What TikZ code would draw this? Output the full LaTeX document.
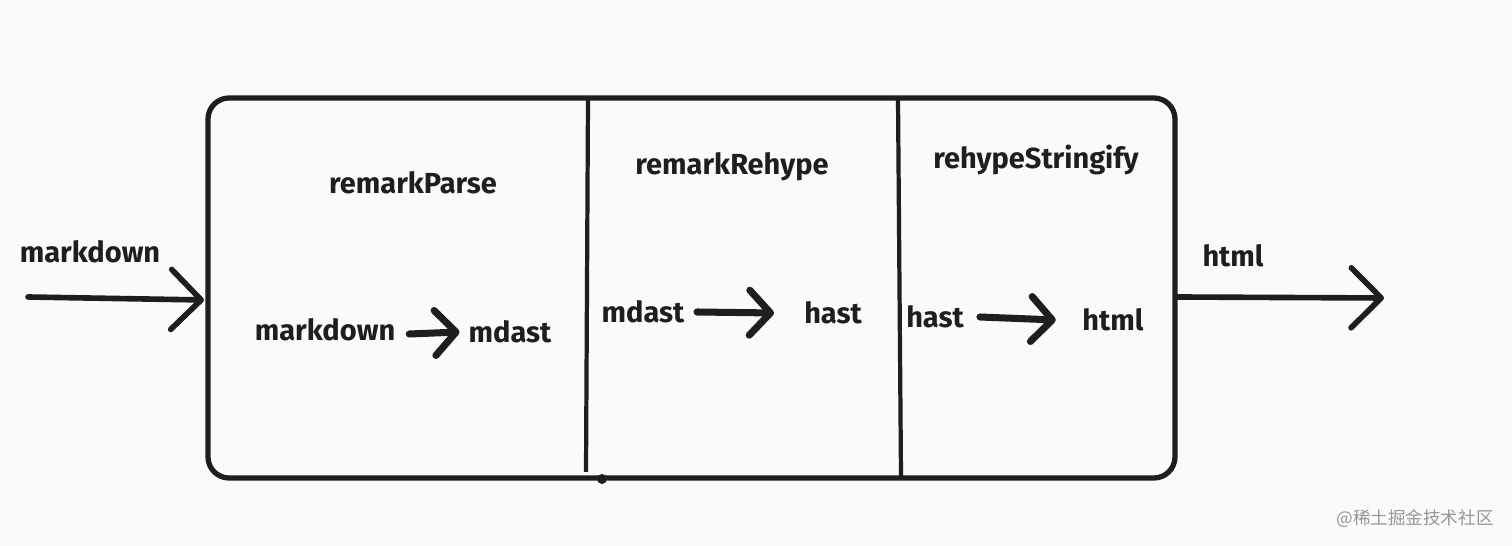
\documentclass[tikz,border=0pt]{standalone}
\usepackage{fontspec}
\setmainfont{Fira Sans}
\newfontfamily\cjk{Noto Sans CJK SC}
\usetikzlibrary{positioning,arrows.meta}
\definecolor{Paper}{RGB}{249,250,251}
\definecolor{Ink}{RGB}{30,30,30}
\definecolor{Mark}{RGB}{150,150,150}

\begin{document}
\begin{tikzpicture}[x=0.02cm,y=-0.02cm,
  lbl/.style={font=\bfseries\fontsize{16.5}{19}\selectfont,text=Ink,inner sep=1pt},
  wire/.style={line width=3.2pt,draw=Ink,line cap=round,
    -{Straight Barb[length=0.6cm,width=1.2cm,line cap=round,line join=round]}},
  flow/.style={line width=4pt,draw=Ink,line cap=round,
    -{Straight Barb[length=0.42cm,width=0.9cm,line cap=round,line join=round]}}]
\fill[Paper] (0,0) rectangle (1512,546);
\useasboundingbox (0,0) rectangle (1512,546);
% frame and stages
\draw[Ink,line width=3pt,rounded corners=12] (208,98) rectangle (1175,478);
\draw[Ink,line width=2.4pt] (588,98) -- (586,472);
\draw[Ink,line width=2.4pt] (898,98) -- (901,476);
\fill[Ink] (602,479) circle (5);
\node[lbl] (parse) at (413,183) {remarkParse};
\node[lbl] (rehype) at (732,167) {remarkRehype};
\node[lbl] (stringify) at (1036,160) {rehypeStringify};
% outside
\coordinate (src) at (28,297);
\coordinate (boxin) at (204,300);
\coordinate (boxout) at (1178,297);
\coordinate (dst) at (1384,298);
\node[lbl] (inlbl) at (90,252) {markdown};
\node[lbl] (outlbl) at (1233,256) {html};
\draw[wire] (src) -- (boxin);
\draw[wire] (boxout) -- (dst);
% inner steps
\node[lbl] (md) at (325,330) {markdown};
\node[lbl] (mdast) at (510,332) {mdast};
\node[lbl] (mdast2) at (643,312) {mdast};
\node[lbl] (hast) at (833,313) {hast};
\node[lbl] (hast2) at (935,317) {hast};
\node[lbl] (html) at (1113,320) {html};
\draw[flow] (md.east) ++(12,4) -- ([xshift=-4pt]mdast.west);
\draw[flow] ([xshift=6pt]mdast2.east) -- ([xshift=-16pt]hast.west);
\draw[flow] ([xshift=8pt]hast2.east) -- ([xshift=-14pt]html.west);
% watermark
\node[text=Mark,font=\cjk\fontsize{10}{12}\selectfont] (mark) at (1415,519) {@稀土掘金技术社区};
\end{tikzpicture}
\end{document}
